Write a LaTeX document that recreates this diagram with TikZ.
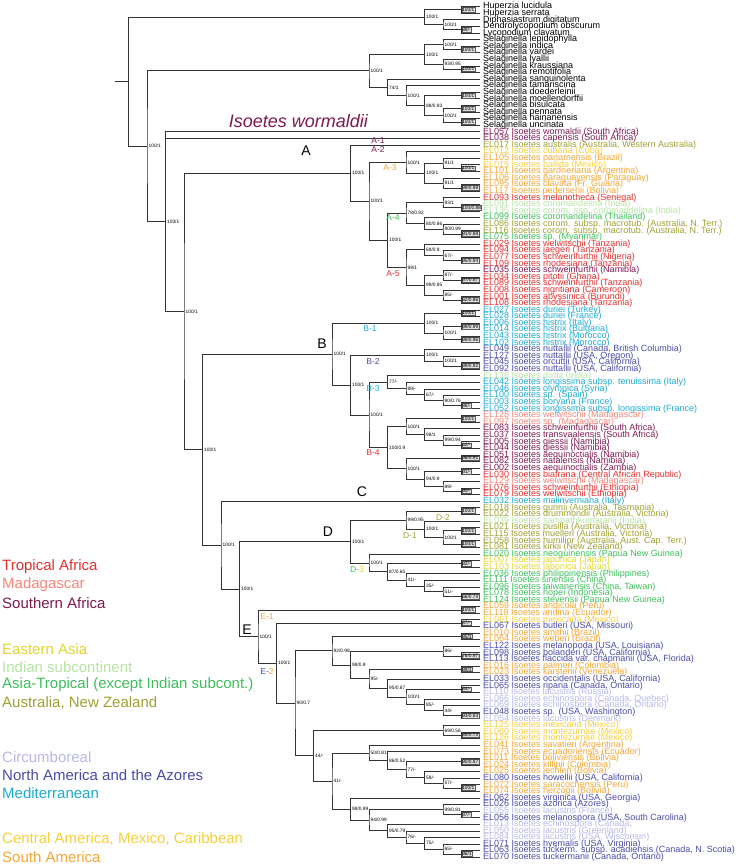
\documentclass[tikz,border=0pt]{standalone}
\usepackage{fontspec}
\setmainfont{Liberation Sans}
\usetikzlibrary{calc}

\definecolor{tafr}{HTML}{E2302E}
\definecolor{mada}{HTML}{F4877A}
\definecolor{safr}{HTML}{7E1A50}
\definecolor{easia}{HTML}{E3D62B}
\definecolor{indsub}{HTML}{B5E3A3}
\definecolor{asiatr}{HTML}{3DBE5B}
\definecolor{ausnz}{HTML}{9EA032}
\definecolor{circb}{HTML}{B9B7E6}
\definecolor{namer}{HTML}{4B4BA6}
\definecolor{medit}{HTML}{1EAAD2}
\definecolor{camer}{HTML}{F5CF3A}
\definecolor{samer}{HTML}{F2A634}

\tikzset{
  br/.style={draw=black!80, line width=0.7pt},
  sup/.style={anchor=west, inner sep=1.5pt, font=\fontsize{4.8}{5}\selectfont},
  supbox/.style={sup, draw=black!65, fill=black!12, inner sep=0.6pt, line width=0.4pt},
  tip/.style={anchor=west, inner sep=0pt, font=\fontsize{9}{9}\selectfont},
  sublab/.style={font=\fontsize{8.5}{8.5}\selectfont, inner sep=0pt},
  letter/.style={font=\fontsize{14}{14}\selectfont, inner sep=0pt},
  legend/.style={anchor=west, inner sep=0pt, font=\fontsize{15}{15}\selectfont}
}

% clade: name, upper child, lower child, support
\newcommand\clade[4]{%
  \path let \p1=(#2), \p2=(#3) in coordinate (#1) at ({min(\x1,\x2)-18.5pt},{(\y1+\y2)/2});
  \draw[br] (#2) -| (#1) |- (#3);
  \node[sup] (#1l) at (#1) {#4};}
\newcommand\cladeb[4]{%
  \path let \p1=(#2), \p2=(#3) in coordinate (#1) at ({min(\x1,\x2)-18.5pt},{(\y1+\y2)/2});
  \draw[br] (#2) -| (#1) |- (#3);
  \node[supbox] (#1l) at (#1) {#4};}

\begin{document}
\begin{tikzpicture}[x=1pt, y=1pt]
\useasboundingbox (0,0) rectangle (740,-867);

% tips
\foreach \col/\txt [count=\i] in {
 black/Huperzia lucidula, black/Huperzia serrata, black/Diphasiastrum digitatum,
 black/Dendrolycopodium obscurum, black/Lycopodium clavatum,
 black/Selaginella lepidophylla, black/Selaginella indica, black/Selaginella vardei,
 black/Selaginella lyallii, black/Selaginella kraussiana, black/Selaginella remotifolia,
 black/Selaginella sanguinolenta, black/Selaginella tamariscina, black/Selaginella doederleinii,
 black/Selaginella moellendorffii, black/Selaginella bisulcata, black/Selaginella pennata,
 black/Selaginella hainanensis, black/Selaginella uncinata,
 safr/{EL057 Isoetes wormaldii (South Africa)},
 safr/{EL038 Isoetes capensis (South Africa)},
 ausnz/{EL017 Isoetes australis (Australia, Western Australia)},
 camer/{EL012 Isoetes cubana (Cuba)},
 samer/{EL105 Isoetes panamensis (Brazil)},
 camer/{EL015 Isoetes pallida (Mexico)},
 samer/{EL101 Isoetes gardneriana (Argentina)},
 samer/{EL106 Isoetes paraguayensis (Paraguay)},
 samer/{EL095 Isoetes clavata (Fr. Guiana)},
 samer/{EL117 Isoetes pedersenii (Bolivia)},
 tafr/{EL093 Isoetes melanotheca (Senegal)},
 indsub/{EL091 Isoetes coromandelina (India)},
 indsub/{EL135 Isoetes corom. ssp. coromandelina (India)},
 asiatr/{EL099 Isoetes coromandelina (Thailand)},
 ausnz/{EL086 Isoetes corom. subsp. macrotub. (Australia, N. Terr.)},
 ausnz/{EL116 Isoetes corom. subsp. macrotub. (Australia, N. Terr.)},
 asiatr/{EL075 Isoetes sp. (Myanmar)},
 tafr/{EL029 Isoetes welwitschii (Tanzania)},
 tafr/{EL094 Isoetes jaegeri (Tanzania)},
 tafr/{EL077 Isoetes schweinfurthii (Nigeria)},
 tafr/{EL109 Isoetes rhodesiana (Tanzania)},
 safr/{EL035 Isoetes schweinfurthii (Namibia)},
 tafr/{EL034 Isoetes pitotii (Ghana)},
 tafr/{EL089 Isoetes schweinfurthii (Tanzania)},
 tafr/{EL008 Isoetes nigritiana (Cameroon)},
 tafr/{EL001 Isoetes abyssinica (Burundi)},
 tafr/{EL108 Isoetes rhodesiana (Tanzania)},
 medit/{EL027 Isoetes duriei (Turkey)},
 medit/{EL028 Isoetes duriei (France)},
 medit/{EL006 Isoetes histrix (Italy)},
 medit/{EL014 Isoetes histrix (Bulgaria)},
 medit/{EL043 Isoetes histrix (Morocco)},
 medit/{EL102 Isoetes histrix (Morocco)},
 namer/{EL049 Isoetes nuttallii (Canada, British Columbia)},
 namer/{EL127 Isoetes nuttallii (USA, Oregon)},
 namer/{EL045 Isoetes orcuttii (USA, California)},
 namer/{EL092 Isoetes nuttallii (USA, California)},
 indsub/{EL136 Isoetes dixitii (India)},
 medit/{EL042 Isoetes longissima subsp. tenuissima (Italy)},
 medit/{EL046 Isoetes olympica (Syria)},
 medit/{EL100 Isoetes sp. (Spain)},
 medit/{EL003 Isoetes boryana (France)},
 medit/{EL052 Isoetes longissima subsp. longissima (France)},
 mada/{EL128 Isoetes welwitschii (Madagascar)},
 mada/{EL097 Isoetes sp. (Madagascar)},
 safr/{EL083 Isoetes schweinfurthii (South Africa)},
 safr/{EL037 Isoetes transvaalensis (South Africa)},
 safr/{EL005 Isoetes giessii (Namibia)},
 safr/{EL044 Isoetes giessii (Namibia)},
 safr/{EL051 Isoetes aequinoctialis (Namibia)},
 safr/{EL082 Isoetes natalensis (Namibia)},
 safr/{EL002 Isoetes aequinoctialis (Zambia)},
 tafr/{EL030 Isoetes biafrana (Central African Republic)},
 mada/{EL129 Isoetes welwitschii (Madagascar)},
 tafr/{EL076 Isoetes schweinfurthii (Ethiopia)},
 tafr/{EL079 Isoetes welwitschii (Ethiopia)},
 medit/{EL032 Isoetes malinverniana (Italy)},
 ausnz/{EL018 Isoetes gunnii (Australia, Tasmania)},
 ausnz/{EL022 Isoetes drummondii (Australia, Victoria)},
 indsub/{EL039 Isoetes sampathkumaranii (India)},
 ausnz/{EL021 Isoetes pusilla (Australia, Victoria)},
 ausnz/{EL115 Isoetes muelleri (Australia, Victoria)},
 ausnz/{EL058 Isoetes humilior (Australia, Aust. Cap. Terr.)},
 ausnz/{EL081 Isoetes kirkii (New Zealand)},
 asiatr/{EL020 Isoetes neoguinensis (Papua New Guinea)},
 easia/{EL007 Isoetes japonica (Japan)},
 easia/{EL103 Isoetes japonica (Japan)},
 asiatr/{EL036 Isoetes philippinensis (Philippines)},
 asiatr/{EL111 Isoetes sinensis (China)},
 asiatr/{EL096 Isoetes taiwanensis (China, Taiwan)},
 asiatr/{EL078 Isoetes hopei (Indonesia)},
 asiatr/{EL124 Isoetes stevensii (Papua New Guinea)},
 samer/{EL059 Isoetes andicola (Peru)},
 samer/{EL118 Isoetes andina (Ecuador)},
 camer/{EL061 Isoetes mexicana (Mexico)},
 namer/{EL067 Isoetes butleri (USA, Missouri)},
 samer/{EL010 Isoetes smithii (Brazil)},
 samer/{EL064 Isoetes weberi (Brazil)},
 namer/{EL122 Isoetes melanopoda (USA, Louisiana)},
 namer/{EL098 Isoetes bolanderi (USA, California)},
 namer/{EL113 Isoetes flaccida var. chapmanii (USA, Florida)},
 samer/{EL016 Isoetes palmeri (Colombia)},
 samer/{EL023 Isoetes karstenii (Venezuela)},
 namer/{EL033 Isoetes occidentalis (USA, California)},
 namer/{EL065 Isoetes riparia (Canada, Ontario)},
 circb/{EL110 Isoetes lacustris (Russia)},
 circb/{EL066 Isoetes echinospora (Canada, Quebec)},
 circb/{EL069 Isoetes echinospora (Canada, Ontario)},
 namer/{EL048 Isoetes sp. (USA, Washington)},
 circb/{EL054 Isoetes lacustris (Denmark)},
 camer/{EL125 Isoetes mexicana (Mexico)},
 camer/{EL060 Isoetes montezumae (Mexico)},
 camer/{EL126 Isoetes montezumae (Mexico)},
 samer/{EL041 Isoetes savatieri (Argentina)},
 samer/{EL073 Isoetes ecuadoriensis (Ecuador)},
 samer/{EL011 Isoetes boliviensis (Bolivia)},
 samer/{EL024 Isoetes killipii (Colombia)},
 samer/{EL025 Isoetes lechleri (Bolivia)},
 namer/{EL080 Isoetes howellii (USA, California)},
 samer/{EL072 Isoetes saracochensis (Peru)},
 samer/{EL074 Isoetes herzogii (Bolivia)},
 namer/{EL062 Isoetes virginica (USA, Georgia)},
 namer/{EL026 Isoetes azorica (Azores)},
 circb/{EL055 Isoetes lacustris (France)},
 namer/{EL056 Isoetes melanospora (USA, South Carolina)},
 circb/{EL013 Isoetes echinospora (Canada,},
 circb/{EL050 Isoetes lacustris (Greenland)},
 circb/{EL084 Isoetes lacustris (USA, Wisconsin)},
 namer/{EL071 Isoetes hyemalis (USA, Virginia)},
 namer/{EL063 Isoetes tuckerm. subsp. acadiensis (Canada, N. Scotia)},
 namer/{EL070 Isoetes tuckermanii (Canada, Ontario)}}
{
  \coordinate (t\i) at (480,{-6.5-(\i-1)*6.595});
  \node[tip, text=\col] (n\i) at (483,{-6.5-(\i-1)*6.595}) {\txt};
}

% Lycopodiaceae
\cladeb{h1}{t1}{t2}{100/1}
\cladeb{h2}{t4}{t5}{89/-}
\clade{h3}{t3}{h2}{100/1}
\clade{lyc}{h1}{h3}{100/1}

% Selaginella
\cladeb{s1}{t7}{t8}{100/1}
\clade{s2}{t6}{s1}{100/1}
\cladeb{s3}{t10}{t11}{100/1}
\clade{s4}{t9}{s3}{93/0.95}
\clade{s5}{s2}{s4}{100/1}
\cladeb{s6}{t14}{t15}{100/1}
\cladeb{s7}{t16}{t17}{100/1}
\cladeb{s8}{t18}{t19}{100/1}
\clade{s9}{s7}{s8}{100/1}
\clade{s10}{s6}{s9}{88/0.93}
\clade{s11}{t13}{s10}{100/1}
\clade{s12}{t12}{s11}{74/1}
\clade{sel}{s5}{s12}{100/1}

% A
\cladeb{a1}{t25}{t26}{100/1}
\clade{a2}{t24}{a1}{91/1}
\cladeb{a3}{t28}{t29}{99/0.99}
\clade{a4}{t27}{a3}{91/1}
\clade{a5}{a2}{a4}{100/1}
\clade{a6}{t23}{a5}{100/1}
\cladeb{a7}{t31}{t32}{100/0.88}
\clade{a8}{t30}{a7}{93/1}
\cladeb{a9}{t35}{t36}{91/0.88}
\clade{a10}{t34}{a9}{90/0.99}
\clade{a11}{t33}{a10}{80/0.86}
\clade{a12}{a8}{a11}{78/0.92}
\cladeb{a13}{t39}{t40}{95/0.94}
\clade{a14}{t38}{a13}{67/-}
\clade{a15}{t37}{a14}{69/0.9}
\cladeb{a16}{t42}{t43}{97/0.87}
\clade{a17}{t41}{a16}{87/-}
\cladeb{a18}{t45}{t46}{62/0.86}
\clade{a19}{t44}{a18}{85/-}
\clade{a20}{a17}{a19}{99/0.95}
\clade{a21}{a15}{a20}{99/1}
\clade{a22}{a12}{a21}{100/1}
\clade{a23}{a6}{a22}{100/1}
\clade{cA}{t22}{a23}{100/1}

% B
\cladeb{b1}{t47}{t48}{100/1}
\cladeb{b2}{t49}{t50}{99/0.99}
\cladeb{b3}{t51}{t52}{99/0.96}
\clade{b4}{b2}{b3}{100/1}
\clade{b5}{b1}{b4}{100/1}
\cladeb{b6}{t55}{t56}{99/0.92}
\clade{b7}{t54}{b6}{100/1}
\clade{b8}{t53}{b7}{100/1}
\cladeb{b9}{t61}{t62}{86/-}
\clade{b10}{t60}{b9}{90/0.76}
\clade{b11}{t59}{b10}{67/-}
\clade{b12}{t58}{b11}{89/-}
\clade{b13}{t57}{b12}{77/-}
\cladeb{b14}{t63}{t64}{100/1}
\cladeb{b15}{t67}{t68}{62/-}
\clade{b16}{t66}{b15}{99/0.94}
\clade{b17}{t65}{b16}{98/1}
\clade{b18}{b14}{b17}{100/1}
\cladeb{b19}{t69}{t70}{96/0.91}
\cladeb{b20}{t71}{t72}{91/-}
\cladeb{b21}{t74}{t75}{90/-}
\clade{b22}{t73}{b21}{89/-}
\clade{b23}{b20}{b22}{94/0.9}
\clade{b24}{b19}{b23}{100/1}
\clade{b25}{b18}{b24}{100/0.9}
\clade{b26}{b13}{b25}{100/1}
\clade{b27}{b8}{b26}{100/1}
\clade{cB}{b5}{b27}{100/1}

% D
\cladeb{d1}{t77}{t78}{100/1}
\cladeb{d2}{t80}{t81}{100/1}
\cladeb{d3}{t82}{t83}{100/1}
\clade{d4}{d2}{d3}{100/1}
\clade{d5}{t79}{d4}{100/1}
\clade{d6}{d1}{d5}{99/0.95}
\cladeb{d7}{t85}{t86}{82/-}
\cladeb{d8}{t90}{t91}{66/0.74}
\clade{d9}{t89}{d8}{51/-}
\clade{d10}{t88}{d9}{35/-}
\clade{d11}{t87}{d10}{41/-}
\clade{d12}{d7}{d11}{87/0.65}
\clade{d13}{t84}{d12}{100/1}
\clade{cD}{d6}{d13}{100/1}

% E
\cladeb{e1}{t92}{t93}{100/1}
\cladeb{e2}{t94}{t95}{87/-}
\cladeb{e3}{t96}{t97}{95/1}
\cladeb{e4}{t99}{t100}{76/0.97}
\clade{e5}{t98}{e4}{86/-}
\cladeb{e6}{t101}{t102}{99/1}
\cladeb{e7}{t104}{t105}{84/-}
\cladeb{e8}{t108}{t109}{93/0.83}
\clade{e9}{t107}{e8}{44/-}
\clade{e10}{t106}{e9}{85/-}
\clade{e11}{e7}{e10}{100/1}
\clade{e12}{t103}{e11}{95/0.87}
\clade{e13}{e6}{e12}{95/-}
\clade{e14}{e5}{e13}{98/0.9}
\clade{e15}{e3}{e14}{92/0.98}
\cladeb{e16}{t111}{t112}{89/0.73}
\clade{e17}{t110}{e16}{69/0.56}
\cladeb{e18}{t115}{t116}{90/0.87}
\cladeb{e19}{t119}{t120}{100/1}
\clade{e20}{t118}{e19}{57/-}
\clade{e21}{t117}{e20}{59/-}
\clade{e22}{e18}{e21}{77/-}
\clade{e23}{t114}{e22}{86/0.52}
\clade{e24}{t113}{e23}{50/0.81}
\cladeb{e25}{t123}{t124}{97/-}
\clade{e26}{t122}{e25}{99/0.81}
\cladeb{e27}{t129}{t130}{96/1}
\clade{e28}{t128}{e27}{65/-}
\clade{e29}{t127}{e28}{75/-}
\clade{e30}{t126}{e29}{76/-}
\clade{e31}{t125}{e30}{95/0.79}
\clade{e32}{e26}{e31}{94/0.99}
\clade{e33}{t121}{e32}{98/0.99}
\clade{e34}{e24}{e33}{41/-}
\clade{e35}{e17}{e34}{44/-}
\clade{e36}{e15}{e35}{90/0.7}
\clade{e37}{e2}{e36}{100/1}
\clade{cE}{e1}{e37}{100/1}

% backbone
\clade{de}{cD}{cE}{100/1}
\clade{cde}{t76}{de}{100/1}
\clade{bcde}{cB}{cde}{100/1}
\clade{abcde}{cA}{bcde}{100/1}
\path let \p1=(t20), \p2=(abcde) in coordinate (iso) at ({\x2-18.5pt},{(\y1+\y2)/2});
\draw[br] (t20) -| (iso) |- (abcde);
\draw[br] (t21) -| (iso);
\node[sup] (isol) at (iso) {100/1};
\clade{seliso}{sel}{iso}{100/1}
\path let \p1=(lyc), \p2=(seliso) in coordinate (root) at ({\x2-18.5pt},{(\y1+\y2)/2});
\draw[br] (lyc) -| (root) |- (seliso);
\coordinate (stub) at ([xshift=-14pt]root);
\draw[br] (root) -- (stub);

% clade labels
\node[font=\fontsize{18}{18}\selectfont\itshape, text=safr, anchor=base east, inner sep=0pt] (worm) at (368,-127) {Isoetes wormaldii};
\node[letter] (labA) at (306,-151) {A};
\node[letter] (labB) at (322,-344) {B};
\node[letter] (labC) at (362,-492) {C};
\node[letter] (labD) at (328,-532) {D};
\node[letter] (labE) at (247,-630) {E};
\node[sublab, text=safr] (labA1) at (378,-141) {A-1};
\node[sublab, text=safr] (labA2) at (378,-150) {A-2};
\node[sublab, text=samer] (labA3) at (390,-168) {A-3};
\node[sublab, text=asiatr] (labA4) at (393,-218) {A-4};
\node[sublab, text=tafr] (labA5) at (393,-274) {A-5};
\node[sublab, text=medit] (labB1) at (370,-329) {B-1};
\node[sublab, text=namer] (labB2) at (373,-362) {B-2};
\node[sublab, text=medit] (labB3) at (373,-389) {B-3};
\node[sublab, text=tafr] (labB4) at (373,-453) {B-4};
\node[sublab, text=ausnz] (labD2) at (443,-518) {D-2};
\node[sublab, text=ausnz] (labD1) at (410,-536) {D-1};
\node[sublab] (labD3) at (357,-570) {\textcolor{asiatr}{D-}\textcolor{easia}{3}};
\node[sublab, text=samer] (labE1) at (267,-617) {E-1};
\node[sublab] (labE2) at (267,-672) {\textcolor{namer}{E-}\textcolor{samer}{2}};

% legend
\node[legend, text=tafr] (g1) at (2,-567) {Tropical Africa};
\node[legend, text=mada] (g2) at (2,-585) {Madagascar};
\node[legend, text=safr] (g3) at (2,-603) {Southern Africa};
\node[legend, text=easia] (g4) at (2,-649) {Eastern Asia};
\node[legend, text=indsub] (g5) at (2,-667) {Indian subcontinent};
\node[legend, text=asiatr] (g6) at (2,-685) {Asia-Tropical (except Indian subcont.)};
\node[legend, text=ausnz] (g7) at (2,-703) {Australia, New Zealand};
\node[legend, text=circb] (g8) at (2,-757) {Circumboreal};
\node[legend, text=namer] (g9) at (2,-775) {North America and the Azores};
\node[legend, text=medit] (g10) at (2,-793) {Mediterranean};
\node[legend, text=camer] (g11) at (2,-839) {Central America, Mexico, Caribbean};
\node[legend, text=samer] (g12) at (2,-857) {South America};
\end{tikzpicture}
\end{document}
